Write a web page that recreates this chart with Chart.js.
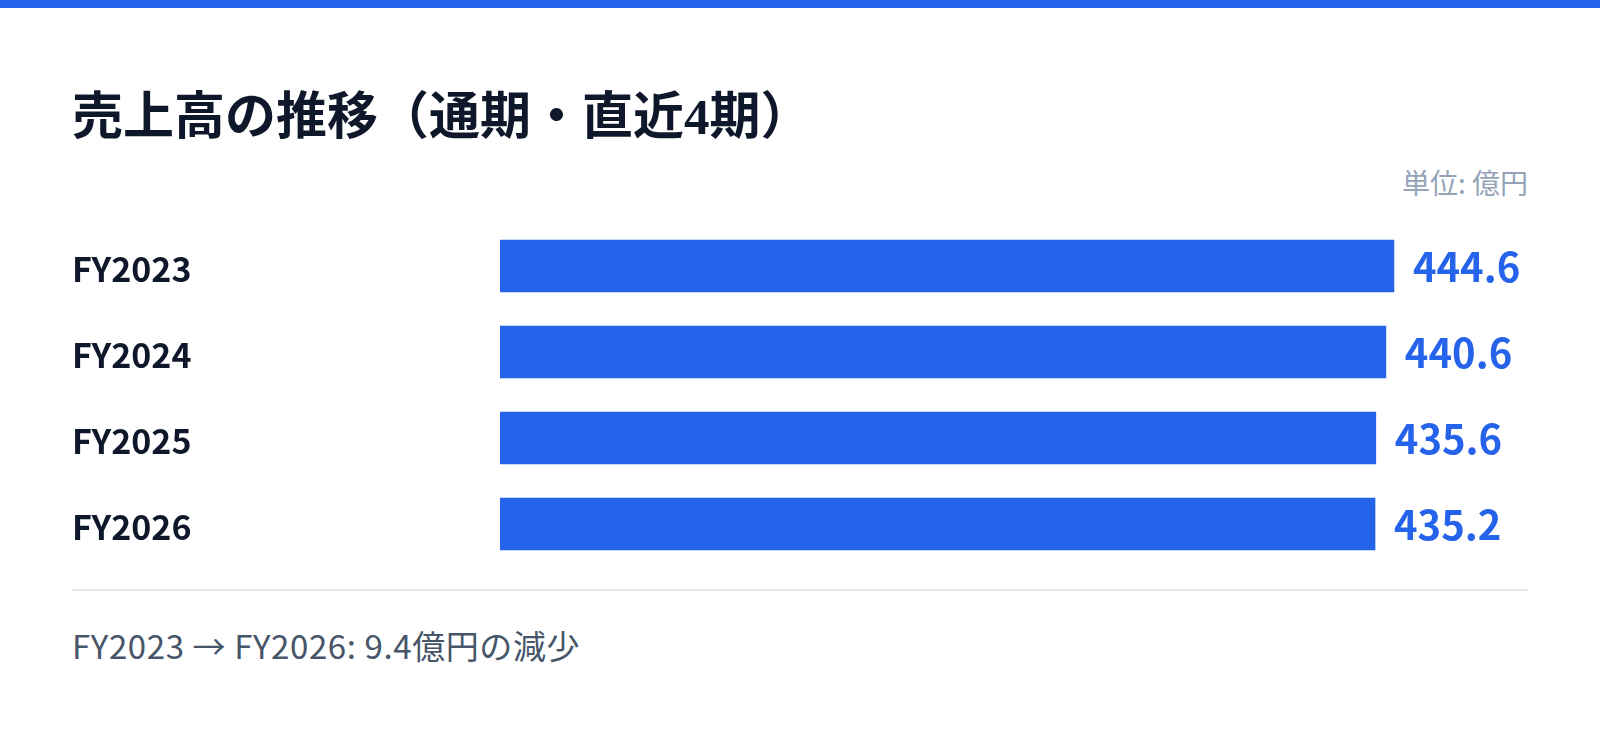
<!DOCTYPE html>
<html lang="ja">
<head>
<meta charset="utf-8">
<script src="https://cdn.jsdelivr.net/npm/chart.js@4.4.1/dist/chart.umd.min.js"></script>
<style>
  html, body { margin: 0; padding: 0; background: #ffffff; }
  body { width: 1600px; height: 733px; position: relative; overflow: hidden; font-family: "Noto Sans CJK JP", "Noto Sans", sans-serif; }
  .topband { position: absolute; left: 0; top: 0; width: 1600px; height: 8px; background: #2563EB; }
  .title { position: absolute; left: 72px; top: 92px; font-family: "Liberation Serif", "Noto Sans CJK JP", serif; font-weight: 700; font-size: 51px; line-height: 51px; color: #0F172A; white-space: nowrap; }
  .unit { position: absolute; right: 72px; top: 168px; font-size: 28px; line-height: 28px; color: #94A3B8; white-space: nowrap; }
  #wrap { position: absolute; left: 72px; top: 223px; width: 1456px; height: 344px; }
  .divider { position: absolute; left: 72px; top: 589px; width: 1456px; height: 2px; background: #E2E8F0; }
  .footer { position: absolute; left: 72px; top: 629px; font-size: 33px; line-height: 33px; letter-spacing: 0.6px; color: #475569; white-space: nowrap; }
</style>
</head>
<body>
<div class="topband"></div>
<div class="title">売上高の推移（通期・直近4期）</div>
<div class="unit">単位: 億円</div>
<div id="wrap"><canvas id="salesChart" width="1456" height="344"></canvas></div>
<div class="divider"></div>
<div class="footer">FY2023 → FY2026: 9.4億円の減少</div>

<script>
// 期ごとの売上高（億円）
const categories = ["FY2023", "FY2024", "FY2025", "FY2026"];
const salesValues = [444.6, 440.6, 435.6, 435.2];

const barColor = "#2563EB";
const labelColor = "#0F172A";

// バーの右に数値を描く
const valueLabels = {
  id: "valueLabels",
  afterDatasetsDraw(chart) {
    const ctx = chart.ctx;
    const meta = chart.getDatasetMeta(0);
    ctx.save();
    ctx.font = "700 40px 'Noto Sans CJK JP', 'Noto Sans', sans-serif";
    ctx.fillStyle = barColor;
    ctx.textAlign = "left";
    ctx.textBaseline = "middle";
    meta.data.forEach((bar, i) => {
      ctx.fillText(salesValues[i].toFixed(1), bar.x + 19, bar.y + 1);
    });
    ctx.restore();
  }
};

const ctx = document.getElementById("salesChart").getContext("2d");
new Chart(ctx, {
  type: "bar",
  data: {
    labels: categories,
    datasets: [{
      data: salesValues,
      backgroundColor: barColor,
      borderWidth: 0,
      barThickness: 52
    }]
  },
  options: {
    indexAxis: "y",
    responsive: false,
    animation: false,
    layout: { padding: 0 },
    plugins: {
      legend: { display: false },
      tooltip: { enabled: false }
    },
    scales: {
      x: {
        display: false,
        min: 0,
        max: Math.max(...salesValues) * 1.15
      },
      y: {
        grid: { display: false },
        border: { display: false },
        ticks: {
          color: labelColor,
          crossAlign: "far",
          padding: 0,
          labelOffset: 3,
          font: { family: "'Noto Sans CJK JP', 'Noto Sans', sans-serif", size: 34, weight: "700" }
        },
        afterFit(scale) {
          // ラベル分の上下余白を消してバーの間隔を揃える
          scale.width = 428;
          scale.paddingTop = 0;
          scale.paddingBottom = 0;
        }
      }
    }
  },
  plugins: [valueLabels]
});
</script>
</body>
</html>
